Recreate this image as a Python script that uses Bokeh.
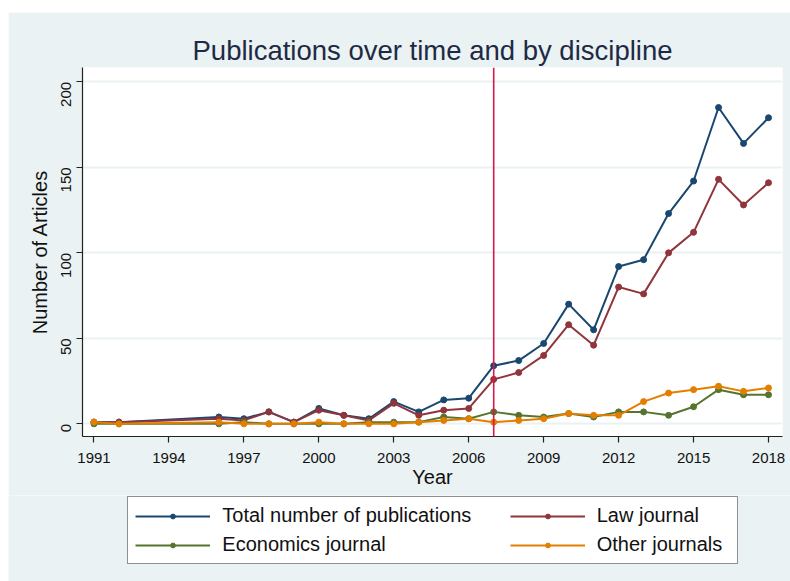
from bokeh.plotting import figure
from bokeh.models import (ColumnDataSource, Span, Legend, LegendItem, FixedTicker,
                          Range1d, Spacer)
from bokeh.layouts import row, column
from bokeh.embed import file_html
from bokeh.resources import INLINE
import math

years = [1991, 1992, 1996, 1997, 1998, 1999, 2000, 2001, 2002, 2003, 2004, 2005,
         2006, 2007, 2008, 2009, 2010, 2011, 2012, 2013, 2014, 2015, 2016, 2017, 2018]
total = [1, 1, 4, 3, 7, 1, 9, 5, 3, 13, 7, 14,
         15, 34, 37, 47, 70, 55, 92, 96, 123, 142, 185, 164, 179]
law = [1, 1, 3, 2, 7, 1, 8, 5, 2, 12, 5, 8,
       9, 26, 30, 40, 58, 46, 80, 76, 100, 112, 143, 128, 141]
econ = [0, 0, 0, 1, 0, 0, 0, 0, 1, 1, 1, 4,
        3, 7, 5, 4, 6, 4, 7, 7, 5, 10, 20, 17, 17]
other = [1, 0, 1, 0, 0, 0, 1, 0, 0, 0, 1, 2,
         3, 1, 2, 3, 6, 5, 5, 13, 18, 20, 22, 19, 21]

series_names = ["Total number of publications", "Law journal",
                "Economics journal", "Other journals"]
series_values = [total, law, econ, other]
series_colors = ["#1A476F", "#90353B", "#55752F", "#E37E00"]

x_ticks = list(range(1991, 2019, 3))
y_ticks = [0, 50, 100, 150, 200]
policy_year = 2007

BG = "#EAF2F3"
FONT = "Liberation Sans"

# ---------------- main chart ----------------
p = figure(width=782, height=483, output_backend="svg", toolbar_location=None,
           x_range=Range1d(1990.54, 2018.56), y_range=Range1d(-7.4, 208.4),
           min_border_left=74, min_border_right=8, min_border_top=55,
           min_border_bottom=59, frame_align=False)
p.background_fill_color = "white"
p.border_fill_color = BG
p.outline_line_color = None

p.title.text = "Publications over time and by discipline"
p.title.align = "center"
p.title.text_font = FONT
p.title.text_font_size = "27.5px"
p.title.text_font_style = "normal"
p.title.text_color = "#1E2A44"
p.title.standoff = 4

p.xgrid.grid_line_color = None
p.ygrid.grid_line_color = BG
p.ygrid.grid_line_width = 2
p.ygrid.ticker = FixedTicker(ticks=y_ticks)

for ax in (p.xaxis[0], p.yaxis[0]):
    ax.axis_line_color = "#222222"
    ax.axis_line_width = 1.2
    ax.major_tick_line_color = "#222222"
    ax.major_tick_line_width = 1.2
    ax.major_tick_out = 6
    ax.major_tick_in = 0
    ax.minor_tick_line_color = None
    ax.major_label_text_font = FONT
    ax.major_label_text_font_size = "15px"
    ax.major_label_text_color = "#111111"
    ax.axis_label_text_font = FONT
    ax.axis_label_text_font_size = "20px"
    ax.axis_label_text_font_style = "normal"
    ax.axis_label_text_color = "#111111"

p.xaxis.ticker = FixedTicker(ticks=x_ticks)
p.yaxis.ticker = FixedTicker(ticks=y_ticks)
p.xaxis.axis_label = "Year"
p.yaxis.axis_label = "Number of Articles"
p.yaxis.major_label_orientation = math.pi / 2
p.xaxis.major_label_standoff = 10
p.yaxis.major_label_standoff = 10
p.xaxis.axis_label_standoff = 0
p.yaxis.axis_label_standoff = 3

p.add_layout(Span(location=policy_year, dimension="height", line_color="#D8174A",
                  line_width=1.6))

sources = {}
for name, vals, col in zip(series_names, series_values, series_colors):
    src = ColumnDataSource(dict(x=years, y=vals))
    sources[name] = src
    p.line("x", "y", source=src, line_color=col, line_width=2)
    p.scatter("x", "y", source=src, size=6, marker="circle",
              fill_color=col, line_color=col)

# ---------------- legend strip ----------------
# Same sources, but the visible range excludes the data, so only legend keys show.
lg = figure(width=782, height=86, output_backend="svg", toolbar_location=None,
            x_range=Range1d(0, 1), y_range=Range1d(0, 1),
            x_axis_type=None, y_axis_type=None, frame_align=False,
            min_border=0, min_border_left=0, min_border_right=0,
            min_border_top=0, min_border_bottom=0)
lg.background_fill_color = BG
lg.border_fill_color = BG
lg.outline_line_color = None
lg.xgrid.grid_line_color = None
lg.ygrid.grid_line_color = None

rend = {}
for name, col in zip(series_names, series_colors):
    ln = lg.line("x", "y", source=sources[name], line_color=col, line_width=2)
    sc = lg.scatter("x", "y", source=sources[name], size=4, marker="circle",
                    fill_color=col, line_color=col)
    rend[name] = [ln, sc]

common = dict(label_text_font=FONT, label_text_font_size="20px",
              label_text_color="#111111", glyph_width=75, glyph_height=12,
              label_standoff=12, spacing=6, padding=7, margin=0)

legend_left = Legend(items=[LegendItem(label=n, renderers=rend[n])
                            for n in (series_names[0], series_names[2])],
                     orientation="vertical", label_width=508,
                     border_line_color="#222222", border_line_width=1.2,
                     background_fill_color="white", background_fill_alpha=1.0,
                     location=(119.3, 16.8), **common)
legend_right = Legend(items=[LegendItem(label=n, renderers=rend[n])
                             for n in (series_names[1], series_names[3])],
                      orientation="vertical",
                      border_line_color=None, background_fill_alpha=0.0,
                      location=(501.7, 24.8), **common)
lg.add_layout(legend_left, "center")
lg.add_layout(legend_right, "center")

layout = row(Spacer(width=8, height=581),
             column(Spacer(width=782, height=12), p, lg, spacing=0), spacing=0)

open("out.html", "w").write(file_html(layout, INLINE))
